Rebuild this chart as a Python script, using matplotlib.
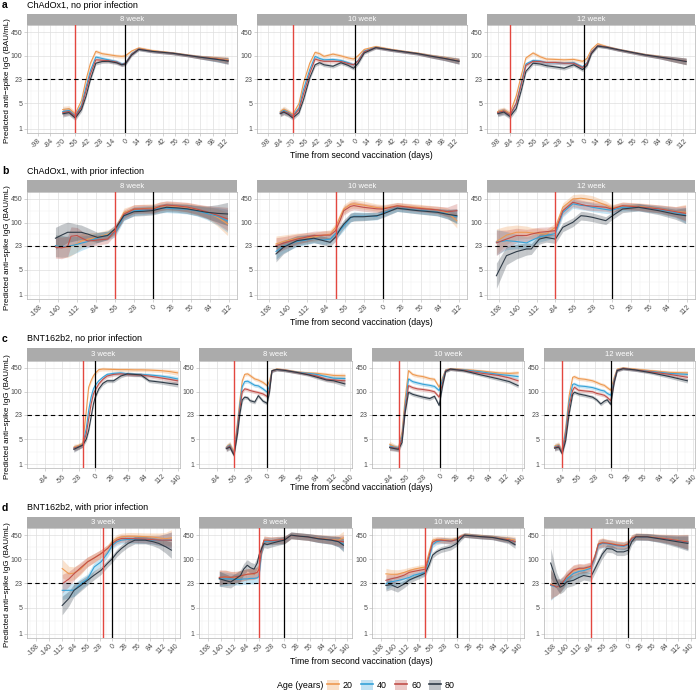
import numpy as np
import matplotlib
matplotlib.use("Agg")
import matplotlib.pyplot as plt
from matplotlib.lines import Line2D
from matplotlib.patches import Patch
from matplotlib.ticker import FixedLocator, NullFormatter

plt.rcParams['font.family'] = ['Liberation Sans', 'DejaVu Sans']

# age groups and colours
ages = ['20', '40', '60', '80']
age_colors = ['#EE9A52', '#35A2D8', '#C1504A', '#2F3B47']

y_ticks = [1, 5, 23, 100, 450]

# ---------------- a: ChAdOx1, no prior infection ----------------
a1_days = [-70, -63, -56, -49, -44, -39, -33, -26, -19, -10, -4, 0, 7, 15, 30, 53, 70, 84, 103, 115]
a1_igg = [
    [3.4, 3.6, 2.6, 6.0, 22, 63, 133, 115, 108, 100, 97, 100, 135, 165, 140, 120, 105, 93, 85, 78],
    [3.0, 3.2, 2.3, 4.5, 14, 40, 93, 85, 78, 70, 60, 63, 115, 155, 133, 118, 103, 92, 80, 74],
    [2.8, 3.0, 2.2, 4.0, 11, 32, 78, 76, 74, 68, 58, 62, 110, 155, 133, 118, 103, 92, 82, 74],
    [2.6, 2.8, 2.0, 3.4, 7.8, 23, 63, 70, 71, 65, 57, 60, 105, 150, 133, 118, 103, 92, 80, 72],
]
a1_band = [0.09, 0.08, 0.07, 0.06, 0.05, 0.05, 0.05, 0.05, 0.05, 0.05,
           0.05, 0.05, 0.04, 0.04, 0.04, 0.04, 0.04, 0.05, 0.07, 0.09]

a2_days = [-84, -80, -75, -70, -63, -58, -51, -45, -40, -35, -25, -16, -8, -2, 3, 10, 23, 40, 54, 70, 85, 100, 116]
a2_igg = [
    [3.0, 3.5, 3.0, 2.5, 5.0, 18, 63, 125, 115, 97, 112, 100, 88, 82, 100, 150, 180, 150, 133, 118, 100, 88, 74],
    [2.8, 3.2, 2.8, 2.3, 3.8, 12, 42, 97, 85, 78, 80, 75, 65, 57, 75, 135, 172, 145, 130, 115, 98, 85, 72],
    [2.7, 3.0, 2.7, 2.2, 3.4, 9.0, 33, 82, 75, 71, 71, 70, 62, 57, 72, 130, 170, 145, 130, 115, 98, 85, 72],
    [2.6, 2.9, 2.5, 2.0, 2.8, 6.3, 25, 57, 65, 57, 52, 65, 55, 46, 62, 120, 168, 145, 130, 115, 98, 85, 71],
]
a2_band = [0.08, 0.08, 0.07, 0.06, 0.05, 0.05, 0.05, 0.05, 0.05, 0.05, 0.05, 0.05,
           0.05, 0.05, 0.05, 0.04, 0.04, 0.04, 0.04, 0.04, 0.05, 0.06, 0.08]

a3_days = [-98, -91, -84, -77, -71, -66, -58, -50, -43, -33, -23, -12, -2, 3, 8, 15, 25, 38, 55, 69, 85, 99, 115]
a3_igg = [
    [3.0, 3.3, 2.7, 8.0, 31, 88, 120, 95, 82, 80, 78, 80, 71, 85, 150, 215, 180, 150, 125, 108, 95, 82, 71],
    [2.8, 3.1, 2.4, 5.0, 20, 60, 75, 72, 65, 65, 63, 65, 50, 65, 130, 190, 175, 148, 123, 106, 93, 82, 71],
    [2.8, 3.1, 2.4, 5.0, 18, 55, 71, 70, 66, 66, 63, 63, 48, 62, 125, 190, 175, 148, 123, 106, 93, 82, 71],
    [2.6, 2.9, 2.2, 3.6, 12, 38, 63, 60, 54, 50, 46, 57, 42, 55, 115, 185, 172, 148, 123, 106, 93, 82, 70],
]
a3_band = [0.08, 0.08, 0.07, 0.06, 0.05, 0.05, 0.05, 0.05, 0.05, 0.05, 0.05, 0.05,
           0.05, 0.05, 0.04, 0.04, 0.04, 0.04, 0.04, 0.04, 0.05, 0.07, 0.09]

# ---------------- b: ChAdOx1, with prior infection ----------------
b1_days = [-144, -135, -126, -121, -112, -106, -96, -82, -67, -56, -43, -28, -14, 0, 10, 20, 35, 50, 65, 79, 95, 110]
b1_igg = [
    [23, 22, 21, 22, 26, 31, 35, 39, 48, 60, 190, 236, 245, 250, 280, 293, 280, 265, 230, 193, 140, 92],
    [23, 22, 22, 23, 25, 27, 30, 38, 45, 52, 150, 210, 220, 230, 245, 250, 240, 235, 210, 180, 150, 112],
    [21, 20, 22, 42, 44, 38, 31, 33, 35, 60, 170, 236, 240, 236, 280, 305, 290, 270, 235, 200, 160, 126],
    [37, 45, 54, 54, 54, 54, 48, 39, 44, 67, 155, 200, 205, 215, 240, 265, 255, 240, 215, 193, 180, 173],
]
b1_band = [0.30, 0.30, 0.28, 0.26, 0.22, 0.20, 0.17, 0.14, 0.12, 0.12, 0.12,
           0.12, 0.12, 0.12, 0.12, 0.12, 0.12, 0.13, 0.14, 0.17, 0.24, 0.32]

b2_days = [-158, -147, -127, -102, -88, -78, -70, -63, -58, -48, -43, -29, -9, 0, 21, 50, 80, 95, 109]
b2_igg = [
    [25.6, 30, 37, 40, 45, 48, 74, 150, 237, 320, 330, 305, 260, 250, 293, 265, 225, 190, 112],
    [16, 22, 30, 36, 33, 35, 50, 62, 80, 135, 150, 150, 150, 185, 250, 220, 195, 175, 145],
    [23, 27, 35, 44, 45, 45, 60, 120, 213, 280, 295, 265, 240, 236, 290, 250, 225, 200, 213],
    [13.6, 20.7, 31.7, 37, 31.7, 28.5, 40, 67, 90, 140, 145, 145, 155, 173, 250, 215, 193, 170, 155],
]
b2_band = [0.22, 0.18, 0.14, 0.12, 0.12, 0.12, 0.12, 0.12, 0.12, 0.12,
           0.12, 0.11, 0.10, 0.10, 0.09, 0.09, 0.10, 0.13, 0.20]

b3_days = [-172, -157, -142, -127, -120, -108, -98, -84, -73, -58, -46, -38, -29, -9, 0, 16, 40, 70, 95, 110]
b3_igg = [
    [30, 45, 54, 54, 52, 50, 48, 74, 265, 450, 470, 450, 420, 305, 250, 293, 280, 240, 200, 193],
    [28.6, 31.7, 30, 27.5, 32, 40, 44, 50, 190, 330, 300, 290, 265, 230, 220, 265, 265, 230, 190, 160],
    [27.5, 35, 44, 44, 48, 54, 56, 60, 213, 364, 320, 295, 285, 265, 236, 293, 270, 240, 200, 180],
    [3.4, 12.2, 15.8, 18.7, 18.7, 35, 39, 35, 74, 102, 155, 150, 140, 113, 150, 237, 265, 213, 170, 155],
]
b3_band = [0.35, 0.25, 0.20, 0.17, 0.15, 0.14, 0.13, 0.12, 0.12, 0.12,
           0.12, 0.12, 0.12, 0.11, 0.10, 0.10, 0.10, 0.11, 0.14, 0.22]

# ---------------- c: BNT162b2, no prior infection ----------------
c1_days = [-36, -30, -21, -15, -11, -7, -3, 0, 6, 13, 20, 31, 43, 54, 66, 77, 91, 111, 125, 139]
c1_igg = [
    [3.0, 3.2, 3.8, 30, 133, 200, 275, 320, 405, 420, 415, 410, 405, 405, 400, 400, 395, 380, 360, 330],
    [2.8, 3.0, 3.5, 10, 31, 70, 120, 150, 200, 250, 300, 320, 330, 310, 300, 300, 290, 270, 250, 225],
    [2.8, 3.0, 3.4, 7.0, 18, 45, 87, 110, 164, 220, 270, 300, 310, 300, 290, 290, 270, 240, 220, 200],
    [2.6, 2.9, 3.4, 5.0, 8.7, 20, 46, 70, 120, 170, 200, 200, 270, 310, 300, 290, 200, 183, 170, 158],
]
c1_band = [0.08, 0.07, 0.06, 0.06, 0.06, 0.06, 0.06, 0.05, 0.05, 0.05,
           0.05, 0.05, 0.05, 0.05, 0.05, 0.05, 0.05, 0.05, 0.06, 0.07]

c2_days = [-69, -63, -56, -50, -46, -42, -38, -33, -29, -21, -15, -7, 0, 4, 8, 16, 30, 50, 70, 84, 100, 112, 131]
c2_igg = [
    [3.0, 3.6, 2.2, 15, 60, 200, 300, 310, 280, 225, 210, 180, 147, 200, 380, 420, 400, 350, 330, 320, 300, 280, 275],
    [2.9, 3.4, 2.0, 12, 45, 140, 190, 195, 180, 150, 145, 120, 97, 150, 370, 410, 390, 345, 320, 300, 260, 236, 230],
    [2.8, 3.2, 1.9, 10, 35, 100, 120, 115, 108, 100, 95, 87, 74, 120, 370, 410, 390, 340, 300, 270, 220, 210, 200],
    [2.7, 3.0, 1.8, 7.0, 25, 60, 71, 68, 57, 52, 78, 55, 48, 100, 380, 410, 385, 340, 290, 250, 210, 200, 164],
]
c2_band = [0.08, 0.08, 0.07, 0.06, 0.06, 0.05, 0.05, 0.05, 0.05, 0.05, 0.05, 0.05,
           0.05, 0.05, 0.04, 0.04, 0.04, 0.04, 0.04, 0.05, 0.05, 0.06, 0.07]

c3_days = [-85, -75, -70, -64, -59, -53, -46, -38, -28, -17, -9, -1, 5, 10, 18, 40, 66, 100, 118, 133]
c3_igg = [
    [3.6, 3.0, 2.9, 8.0, 60, 380, 300, 275, 260, 230, 220, 133, 250, 400, 430, 410, 380, 330, 320, 330],
    [3.2, 2.9, 2.8, 6.0, 40, 225, 190, 175, 160, 150, 140, 108, 220, 390, 420, 400, 360, 300, 280, 260],
    [3.0, 2.8, 2.7, 5.0, 30, 147, 130, 120, 115, 108, 100, 71, 180, 380, 420, 390, 330, 280, 240, 200],
    [2.9, 2.7, 2.6, 4.0, 25, 97, 85, 78, 71, 65, 75, 42, 150, 360, 420, 380, 300, 225, 190, 147],
]
c3_band = [0.08, 0.07, 0.07, 0.06, 0.05, 0.05, 0.05, 0.05, 0.05, 0.05,
           0.05, 0.05, 0.05, 0.04, 0.04, 0.04, 0.04, 0.05, 0.05, 0.06]

c4_days = [-97, -90, -84, -78, -72, -66, -63, -56, -45, -32, -25, -18, -12, -7, -1, 5, 10, 20, 40, 69, 100, 130]
c4_igg = [
    [3.2, 3.5, 2.3, 10, 80, 250, 260, 230, 220, 200, 180, 160, 150, 130, 110, 250, 420, 450, 420, 380, 340, 330],
    [3.0, 3.3, 2.2, 8.0, 55, 160, 164, 145, 140, 130, 120, 110, 105, 90, 80, 220, 400, 440, 400, 360, 320, 300],
    [2.9, 3.2, 2.1, 6.0, 40, 110, 133, 110, 105, 100, 90, 85, 80, 70, 57, 200, 390, 440, 400, 350, 300, 250],
    [2.8, 3.0, 2.0, 4.5, 25, 85, 97, 87, 80, 71, 60, 46, 55, 60, 45, 180, 380, 430, 400, 330, 260, 200],
]
c4_band = [0.08, 0.08, 0.07, 0.06, 0.05, 0.05, 0.05, 0.05, 0.05, 0.05, 0.05,
           0.05, 0.05, 0.05, 0.05, 0.05, 0.04, 0.04, 0.04, 0.04, 0.05, 0.06]

# ---------------- d: BNT162b2, with prior infection ----------------
d1_days = [-111, -96, -85, -70, -55, -40, -25, -10, 0, 10, 20, 35, 50, 73, 90, 103, 118, 131]
d1_igg = [
    [57, 41, 43, 55, 86, 110, 143, 200, 300, 370, 405, 420, 420, 410, 400, 380, 360, 380],
    [14.8, 14.8, 15, 22, 30, 63, 86, 150, 241, 300, 330, 345, 345, 340, 330, 320, 330, 330],
    [22.3, 30, 41, 60, 86, 110, 143, 200, 268, 330, 365, 365, 360, 350, 340, 330, 330, 330],
    [5.8, 9.0, 14.8, 20, 27.5, 38, 51, 80, 105, 150, 196, 270, 330, 330, 300, 270, 220, 178],
]
d1_band = [0.25, 0.20, 0.17, 0.15, 0.13, 0.12, 0.11, 0.10, 0.10,
           0.10, 0.10, 0.10, 0.10, 0.10, 0.11, 0.13, 0.17, 0.22]

d2_days = [-144, -130, -119, -108, -97, -90, -82, -75, -67, -60, -56, -50, -45, -38, -30, -15, 0, 15, 35, 52, 75, 104, 120, 131]
d2_igg = [
    [32, 34, 33, 33, 35, 38, 40, 40, 41, 45, 55, 200, 330, 330, 320, 330, 330, 440, 420, 400, 370, 340, 330, 380],
    [30, 30, 30, 29, 29, 30, 30, 31, 31, 32, 35, 180, 300, 310, 310, 320, 330, 440, 420, 400, 360, 330, 300, 260],
    [33, 34, 33, 34, 36, 38, 40, 41, 42, 45, 55, 190, 330, 330, 320, 330, 340, 440, 420, 400, 365, 335, 310, 300],
    [30.4, 27, 24.8, 30, 37, 55, 70, 60, 55, 80, 130, 200, 268, 250, 268, 300, 330, 450, 420, 405, 360, 330, 300, 241],
]
d2_band = [0.20, 0.18, 0.16, 0.15, 0.15, 0.15, 0.15, 0.15, 0.15, 0.15, 0.15, 0.13,
           0.11, 0.10, 0.10, 0.10, 0.10, 0.09, 0.09, 0.09, 0.10, 0.11, 0.14, 0.18]

d3_days = [-158, -147, -132, -117, -106, -95, -80, -70, -62, -54, -45, -35, -24, -13, 0, 8, 17, 35, 54, 80, 99, 115, 130]
d3_igg = [
    [41, 40, 40, 45, 50, 55, 60, 63, 150, 330, 340, 340, 335, 330, 360, 420, 460, 440, 420, 400, 370, 360, 330],
    [22, 25, 27, 30, 33, 38, 42, 45, 100, 250, 300, 320, 320, 310, 340, 410, 450, 430, 410, 390, 360, 340, 300],
    [27.5, 30, 33, 38, 45, 48, 52, 55, 120, 290, 330, 330, 320, 310, 340, 410, 450, 430, 410, 390, 360, 340, 300],
    [20, 21, 17.5, 22, 28, 32, 38, 43, 70, 130, 160, 185, 200, 217, 268, 350, 450, 430, 410, 390, 350, 320, 250],
]
d3_band = [0.15, 0.13, 0.12, 0.10, 0.09, 0.08, 0.08, 0.08, 0.08, 0.08, 0.08, 0.08,
           0.08, 0.08, 0.07, 0.06, 0.06, 0.06, 0.06, 0.06, 0.07, 0.08, 0.10]

d4_days = [-174, -167, -161, -153, -145, -138, -123, -110, -100, -84, -75, -67, -58, -48, -36, -25, -10, 0, 8, 17, 43, 70, 89, 110, 134]
d4_igg = [
    [22, 20, 18, 19, 25, 33, 50, 55, 55, 63, 120, 268, 290, 280, 268, 250, 240, 268, 380, 420, 410, 380, 360, 330, 300],
    [20, 19, 18, 20, 24, 30, 42, 48, 50, 58, 110, 240, 270, 265, 250, 235, 225, 250, 360, 410, 400, 370, 350, 320, 290],
    [21, 20, 18, 20, 26, 35, 52, 58, 58, 65, 115, 260, 280, 275, 260, 245, 235, 260, 370, 415, 405, 375, 355, 325, 295],
    [80, 45, 27.5, 18, 20, 25, 27.5, 33, 37, 34, 55, 86, 140, 196, 190, 160, 160, 177, 300, 405, 405, 360, 330, 300, 270],
]
d4_band = [0.40, 0.30, 0.22, 0.18, 0.16, 0.15, 0.14, 0.13, 0.12, 0.12, 0.12, 0.12, 0.12,
           0.10, 0.10, 0.10, 0.10, 0.10, 0.09, 0.09, 0.09, 0.10, 0.12, 0.15, 0.20]

rows = [
    dict(letter='a', title='ChAdOx1, no prior infection', ticks=list(range(-98, 113, 14)),
         xlim=(-110, 125), ypix=(14, 25, 132.5), xlab_y=155,
         cols=[(27, 237), (257, 467), (487, 695)],
         panels=[('8 week', -56, a1_days, a1_igg, a1_band),
                 ('10 week', -70, a2_days, a2_igg, a2_band),
                 ('12 week', -84, a3_days, a3_igg, a3_band)]),
    dict(letter='b', title='ChAdOx1, with prior infection', ticks=list(range(-168, 113, 28)),
         xlim=(-186, 124), ypix=(180, 192, 298.5), xlab_y=322,
         cols=[(27, 237), (257, 467), (487, 695)],
         panels=[('8 week', -56, b1_days, b1_igg, b1_band),
                 ('10 week', -70, b2_days, b2_igg, b2_band),
                 ('12 week', -84, b3_days, b3_igg, b3_band)]),
    dict(letter='c', title='BNT162b2, no prior infection', ticks=list(range(-84, 141, 28)),
         xlim=(-115, 143), ypix=(348, 361, 468), xlab_y=488,
         cols=[(27, 180), (199, 352), (372, 524), (544, 695)],
         panels=[('3 week', -21, c1_days, c1_igg, c1_band),
                 ('8 week', -56, c2_days, c2_igg, c2_band),
                 ('10 week', -70, c3_days, c3_igg, c3_band),
                 ('12 week', -84, c4_days, c4_igg, c4_band)]),
    dict(letter='d', title='BNT162b2, with prior infection', ticks=list(range(-168, 141, 28)),
         xlim=(-189, 150), ypix=(517, 528, 637.5), xlab_y=662,
         cols=[(27, 180), (199, 352), (372, 524), (544, 695)],
         panels=[('3 week', -21, d1_days, d1_igg, d1_band),
                 ('8 week', -56, d2_days, d2_igg, d2_band),
                 ('10 week', -70, d3_days, d3_igg, d3_band),
                 ('12 week', -84, d4_days, d4_igg, d4_band)]),
]

W, H = 697, 691
fig = plt.figure(figsize=(W / 100, H / 100), dpi=100)


def px_axes(x0, x1, y0, y1):
    return fig.add_axes([x0 / W, 1 - y1 / H, (x1 - x0) / W, (y1 - y0) / H])


def draw_panel(ax, dose1, days, igg, band, ticks, xlim):
    d = np.array(days, dtype=float)
    b = 10 ** np.array(band)
    for vals, c in zip(igg, age_colors):
        v = np.array(vals, dtype=float)
        ax.fill_between(d, v / b, v * b, color=c, alpha=0.28, lw=0)
    for vals, c in zip(igg, age_colors):
        ax.plot(d, vals, color=c, lw=0.8)
    ax.axvline(dose1, color='#E3473F', lw=1.0, zorder=3)
    ax.axvline(0, color='black', lw=0.9, zorder=3)
    ax.axhline(23, color='black', lw=0.8, ls=(0, (4, 3)), zorder=3)

    ax.set_yscale('log')
    ax.set_ylim(0.8, 700)
    ax.set_xlim(xlim)
    ax.yaxis.set_major_locator(FixedLocator(y_ticks))
    ax.set_yticklabels([str(t) for t in y_ticks])
    ax.yaxis.set_minor_locator(FixedLocator([np.sqrt(a * b2) for a, b2 in zip(y_ticks[:-1], y_ticks[1:])]))
    ax.yaxis.set_minor_formatter(NullFormatter())
    step = ticks[1] - ticks[0]
    ax.set_xticks(ticks)
    ax.set_xticklabels([str(t) for t in ticks], rotation=45, ha='right', va='top',
                       rotation_mode='anchor')
    ax.xaxis.set_minor_locator(FixedLocator([t - step / 2 for t in ticks] + [ticks[-1] + step / 2]))
    ax.set_axisbelow(True)
    ax.grid(which='major', color='#DEDEDE', lw=0.5)
    ax.grid(which='minor', color='#F0F0F0', lw=0.35)
    ax.tick_params(which='major', length=2, width=0.4, color='#B3B3B3',
                   labelsize=5, labelcolor='#4D4D4D', pad=1.5)
    ax.tick_params(which='minor', length=0)
    for s in ax.spines.values():
        s.set_color('#B3B3B3')
        s.set_linewidth(0.5)


for row in rows:
    ys, yt, yb = row['ypix']
    for (x0, x1), (strip, dose1, days, igg, band) in zip(row['cols'], row['panels']):
        ax = px_axes(x0, x1, yt, yb)
        draw_panel(ax, dose1, days, igg, band, row['ticks'], row['xlim'])
        sax = px_axes(x0, x1, ys, yt)
        sax.set_facecolor('#ABABAB')
        sax.set_xticks([])
        sax.set_yticks([])
        for s in sax.spines.values():
            s.set_visible(False)
        sax.text(0.5, 0.5, strip, color='white', fontsize=5.5, ha='center', va='center',
                 transform=sax.transAxes)
    # row titles and axis labels
    ty = ys - 9
    fig.text(2 / W, 1 - ty / H, row['letter'], fontsize=7.5, fontweight='bold', va='center')
    fig.text(27 / W, 1 - ty / H, row['title'], fontsize=6.5, va='center')
    fig.text(8 / W, 1 - ((yt + yb) / 2 + 2) / H, 'Predicted anti\u2212spike IgG (BAU/mL)',
             fontsize=5.8, rotation=90, ha='center', va='center')
    xc = (row['cols'][0][0] + row['cols'][-1][1]) / 2
    fig.text(xc / W, 1 - row['xlab_y'] / H, 'Time from second vaccination (days)', fontsize=6.3,
             ha='center', va='center')

# legend
fig.text(323 / W, 1 - 685 / H, 'Age (years)', fontsize=6.4, ha='right', va='center')
handles = [(Patch(facecolor=c, alpha=0.3, edgecolor='none'), Line2D([0], [0], color=c, lw=1.2))
           for c in age_colors]
fig.legend(handles, ages, loc='center left', bbox_to_anchor=(327 / W, 1 - 685 / H), ncol=4,
           frameon=False, fontsize=6.4, handlelength=1.3, handleheight=1.3,
           columnspacing=0.9, handletextpad=0.5, borderpad=0, borderaxespad=0)

fig.savefig('out.png', dpi=100)
